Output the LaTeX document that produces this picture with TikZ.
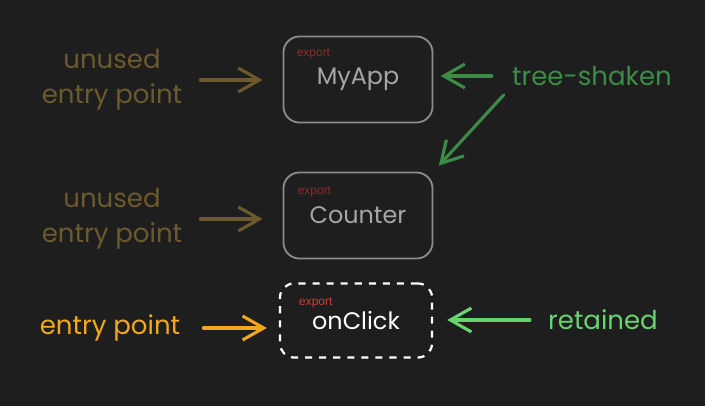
\documentclass[tikz,border=0pt]{standalone}
\usepackage{fontspec}
\setmainfont{Poppins}
\setsansfont{Liberation Sans}
\usepackage{tikz}
\usetikzlibrary{arrows.meta}
\usetikzlibrary{positioning}
\usepackage{xcolor}
\definecolor{bgdark}{HTML}{1E1E1E}
\definecolor{boxgray}{HTML}{8C8C8C}
\definecolor{textgray}{HTML}{A6A6A6}
\definecolor{unusedbrown}{HTML}{6C5A2E}
\definecolor{shakengreen}{HTML}{3C8C47}
\definecolor{entryorange}{HTML}{F2A81D}
\definecolor{keepgreen}{HTML}{68D46E}
\definecolor{exportdim}{HTML}{8A2C2C}
\definecolor{exportred}{HTML}{D63A3A}

\begin{document}
\begin{tikzpicture}[x=0.025cm, y=-0.025cm,
  modbox/.style={draw=boxgray, line width=1.3pt, rounded corners=0.4cm,
    minimum width=3.725cm, minimum height=2.15cm, text=textgray,
    font=\fontsize{17}{20}\selectfont},
  livebox/.style={draw=white, line width=1.6pt, rounded corners=0.35cm,
    dash pattern=on 5pt off 5pt, minimum width=3.8cm, minimum height=1.85cm,
    text=white, font=\fontsize{17}{20}\selectfont},
  exportlbl/.style={inner sep=0pt, anchor=north west,
    font=\sffamily\fontsize{8.5}{10}\selectfont},
  sidelbl/.style={inner sep=0pt, align=center,
    font=\fontsize{18.5}{25}\selectfont},
  sketcharr/.style={line width=2.2pt, line cap=round, line join=round,
    -{Straight Barb[length=15pt, width=17pt, line width=2.2pt]}}
  ]
\fill[bgdark] (0,0) rectangle (705,406);
\useasboundingbox (0,0) rectangle (705,406);

\node[modbox] (myapp) at (358,79.5) {MyApp};
\node[modbox] (counter) at (358,215.5) {Counter};
\node[livebox] (onclick) at (356,320.5) {onClick};

\node[exportlbl, text=exportdim] (myappexp) at ([shift={(14,13)}]myapp.north west) {export};
\node[exportlbl, text=exportdim] (counterexp) at ([shift={(15,15)}]counter.north west) {export};
\node[exportlbl, text=exportred] (onclickexp) at ([shift={(20,15)}]onclick.north west) {export};

\node[sidelbl, text=unusedbrown] (unusedA) at (112,80) {unused\\entry point};
\node[sidelbl, text=unusedbrown] (unusedB) at (112,219) {unused\\entry point};
\node[sidelbl, text=entryorange] (entry) at (110,328) {entry point};
\node[sidelbl, text=shakengreen] (shaken) at (592,76) {tree-shaken};
\node[sidelbl, text=keepgreen] (retained) at (603,320) {retained};

\draw[sketcharr, unusedbrown, shorten <=0.45cm, shorten >=0.5cm] (unusedA.east) -- (unusedA.east -| myapp.west);
\draw[sketcharr, unusedbrown, shorten <=0.45cm, shorten >=0.5cm] (unusedB.east) -- (unusedB.east -| counter.west);
\draw[sketcharr, entryorange, shorten <=0.575cm, shorten >=0.3cm] (entry.east) -- (entry.east -| onclick.west);
\draw[sketcharr, shakengreen, shorten <=0.5cm, shorten >=0.18cm] (shaken.west) -- (shaken.west -| myapp.east);
\draw[sketcharr, shakengreen, shorten <=0.3cm, shorten >=0.2cm] (shaken.south west) -- (counter.north east);
\draw[sketcharr, keepgreen, shorten <=0.45cm, shorten >=0.35cm] (retained.west) -- (retained.west -| onclick.east);
\end{tikzpicture}
\end{document}
